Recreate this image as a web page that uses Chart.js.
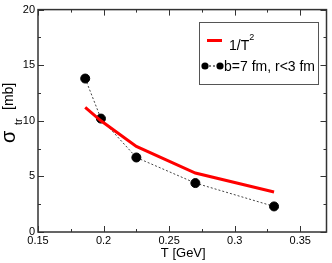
<!DOCTYPE html>
<html>
<head>
<meta charset="utf-8">
<script src="https://cdn.jsdelivr.net/npm/chart.js@4"></script>
<style>
  body { margin: 0; background: #fff; }
  canvas { display: block; }
</style>
</head>
<body>
<canvas id="myChart" width="332" height="263"></canvas>
<script>
// values
const temps = [0.186, 0.198, 0.225, 0.27, 0.33];
const invT2 = [11.2, 10.0, 7.7, 5.3, 3.6];
const sigmaB7 = [13.8, 10.2, 6.7, 4.4, 2.3];
const xTicks = [0.15, 0.2, 0.25, 0.3, 0.35];
const yTicks = [0, 5, 10, 15, 20];
const labelRed = '1/T';
const labelBlack = 'b=7 fm, r<3 fm';

const FONT = '"Liberation Sans", Arial, sans-serif';

// frame, inward ticks, legend box and axis titles
const decor = {
    id: 'decor',
    afterDraw(chart) {
        const ctx = chart.ctx;
        const a = chart.chartArea;
        const x = chart.scales.x, y = chart.scales.y;
        ctx.save();
        ctx.strokeStyle = '#333';
        ctx.lineWidth = 1.5;
        ctx.strokeRect(a.left, a.top, a.right - a.left, a.bottom - a.top);

        ctx.lineWidth = 1;
        ctx.beginPath();
        for (let v = 0.15; v <= 0.3701; v += 0.025) {
            const px = Math.round(x.getPixelForValue(v)) + 0.5;
            const major = Math.abs((v / 0.05) - Math.round(v / 0.05)) < 1e-6;
            const len = major ? 6 : 3;
            ctx.moveTo(px, a.bottom); ctx.lineTo(px, a.bottom - len);
            ctx.moveTo(px, a.top); ctx.lineTo(px, a.top + len);
        }
        for (let v = 0; v <= 20.01; v += 2.5) {
            const py = Math.round(y.getPixelForValue(v)) + 0.5;
            const len = (v % 5 === 0) ? 6 : 3;
            ctx.moveTo(a.left, py); ctx.lineTo(a.left + len, py);
            ctx.moveTo(a.right, py); ctx.lineTo(a.right - len, py);
        }
        ctx.stroke();

        // legend
        ctx.fillStyle = '#fff';
        ctx.fillRect(199, 22, 119, 62);
        ctx.strokeStyle = '#555';
        ctx.lineWidth = 1;
        ctx.strokeRect(199.5, 22.5, 119, 62);

        ctx.strokeStyle = '#ff0000';
        ctx.lineWidth = 3;
        ctx.beginPath();
        ctx.moveTo(207, 40.5); ctx.lineTo(222, 40.5);
        ctx.stroke();

        ctx.fillStyle = '#000';
        ctx.font = '14px ' + FONT;
        ctx.textBaseline = 'alphabetic';
        ctx.textAlign = 'left';
        ctx.fillText(labelRed, 229, 50);
        const w = ctx.measureText(labelRed).width;
        ctx.font = '9px ' + FONT;
        ctx.fillText('2', 229 + w, 40);

        ctx.strokeStyle = '#000';
        ctx.lineWidth = 1;
        ctx.setLineDash([2, 2]);
        ctx.beginPath();
        ctx.moveTo(205, 66); ctx.lineTo(220, 66);
        ctx.stroke();
        ctx.setLineDash([]);
        [205, 220].forEach(cx => {
            ctx.beginPath();
            ctx.arc(cx, 66, 3.6, 0, Math.PI * 2);
            ctx.fill();
        });
        ctx.font = '14px ' + FONT;
        ctx.fillText(labelBlack, 224, 71);

        // x title
        ctx.textAlign = 'center';
        ctx.font = '13px ' + FONT;
        ctx.fillText('T [GeV]', (a.left + a.right) / 2 + 1, 257);

        // y title
        ctx.textAlign = 'left';
        ctx.rotate(-Math.PI / 2);
        ctx.font = '20px ' + FONT;
        ctx.fillText('σ', -143, 15);
        ctx.font = '11px ' + FONT;
        ctx.fillText('tr', -125, 21.5);
        ctx.font = '14px ' + FONT;
        ctx.fillText('[mb]', -110, 12.5);
        ctx.restore();
    }
};

const myChart = new Chart(document.getElementById('myChart'), {
    type: 'scatter',
    data: {
        datasets: [{
            label: labelRed,
            data: temps.map((t, i) => ({ x: t, y: invT2[i] })),
            showLine: true,
            borderColor: '#ff0000',
            borderWidth: 3,
            pointRadius: 0,
            tension: 0
        }, {
            label: labelBlack,
            data: temps.map((t, i) => ({ x: t, y: sigmaB7[i] })),
            showLine: true,
            borderColor: '#444',
            borderWidth: 1,
            borderDash: [2, 2],
            backgroundColor: '#000',
            pointBackgroundColor: '#000',
            pointBorderColor: '#000',
            pointRadius: 4.5,
            tension: 0
        }]
    },
    options: {
        responsive: false,
        animation: false,
        devicePixelRatio: 1,
        layout: { padding: { top: 5, right: 2, left: 0, bottom: 0 } },
        plugins: {
            legend: false,
            tooltip: { enabled: false }
        },
        scales: {
            x: {
                type: 'linear',
                min: 0.15,
                max: 0.37,
                afterBuildTicks: s => { s.ticks = xTicks.map(v => ({ value: v })); },
                afterFit: s => { s.height = 31; },
                grid: { display: false, drawTicks: false },
                border: { display: false },
                ticks: {
                    color: '#000',
                    padding: 2,
                    maxRotation: 0,
                    font: { family: FONT, size: 11 },
                    callback: v => String(v)
                }
            },
            y: {
                min: 0,
                max: 20,
                afterBuildTicks: s => { s.ticks = yTicks.map(v => ({ value: v })); },
                afterFit: s => { s.width = 38; },
                grid: { display: false, drawTicks: false },
                border: { display: false },
                ticks: {
                    color: '#000',
                    padding: 3,
                    font: { family: FONT, size: 11 }
                }
            }
        }
    },
    plugins: [decor]
});
</script>
</body>
</html>
